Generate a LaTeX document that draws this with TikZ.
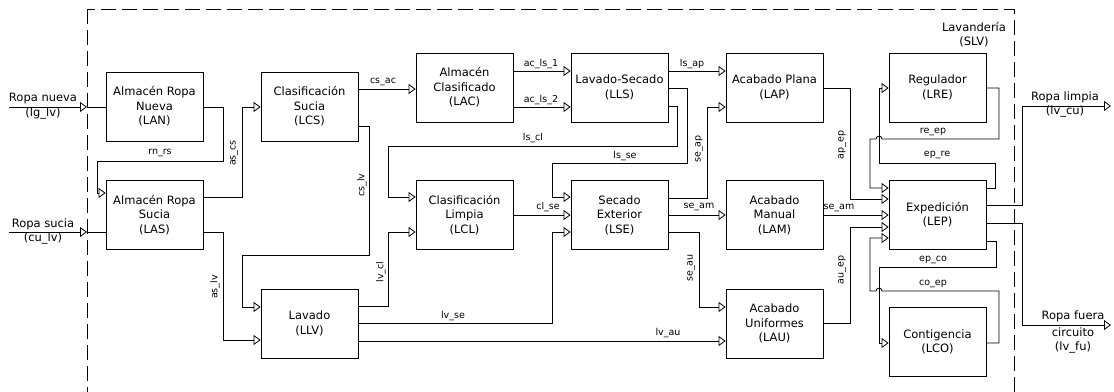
\documentclass[tikz,border=0pt]{standalone}
\usepackage{fontspec}
\setmainfont{DejaVu Sans}
\usetikzlibrary{arrows.meta}
\begin{document}
\begin{tikzpicture}[x=1pt,y=-1pt,
  box/.style={draw, line width=0.8pt, minimum width=97pt, minimum height=69pt, align=center, inner sep=0pt, font=\fontsize{11.5}{14.5}\selectfont},
  wire/.style={line width=0.8pt},
  arr/.style={wire, -{Triangle[open, length=7pt, width=10pt]}},
  lbl/.style={font=\fontsize{9.5}{11}\selectfont, inner sep=0pt},
  big/.style={font=\fontsize{11.5}{14.5}\selectfont, inner sep=0pt, align=center},
  frame/.style={line width=0.8pt, dash pattern=on 15pt off 6pt}
]
\useasboundingbox (0,0) rectangle (1114,391);
\begin{scope}
  \clip (0,0) rectangle (1114,391);
  \draw[frame] (87,9) rectangle (1014,430);
\end{scope}
\node[big] (tSLV) at (974,34.5) {Lavandería\\(SLV)};

% boxes
\node[box] (LAN) at (154.5,106.5) {Almacén Ropa\\Nueva\\(LAN)};
\node[box] (LAS) at (154.5,215) {Almacén Ropa\\Sucia\\(LAS)};
\node[box] (LCS) at (309.5,106.5) {Clasificación\\Sucia\\(LCS)};
\node[box] (LLV) at (309.5,323.5) {Lavado\\(LLV)};
\node[box] (LAC) at (464.5,87.5) {Almacén\\Clasificado\\(LAC)};
\node[box] (LCL) at (464.5,215) {Clasificación\\Limpia\\(LCL)};
\node[box] (LLS) at (619.5,87.5) {Lavado-Secado\\(LLS)};
\node[box] (LSE) at (619.5,215) {Secado\\Exterior\\(LSE)};
\node[box] (LAP) at (774.5,87.5) {Acabado Plana\\(LAP)};
\node[box] (LAM) at (774.5,215) {Acabado\\Manual\\(LAM)};
\node[box] (LAU) at (774.5,323.5) {Acabado\\Uniformes\\(LAU)};
\node[box] (LRE) at (937.5,87.5) {Regulador\\(LRE)};
\node[box] (LEP) at (937.5,214.5) {Expedición\\(LEP)};
\node[box] (LCO) at (937.5,342) {Contigencia\\(LCO)};

% external inputs
\coordinate (rnS) at (9,107);
\coordinate (rnB) at (87,107);
\draw[arr] (rnS) -- (rnB);
\draw[wire] (rnB) -- (LAN.west |- rnB);
\node[big] (tRN1) at (43,99) {Ropa nueva};
\node[big] (tRN2) at (43,113) {(lg\_lv)};

\coordinate (rsS) at (9,232);
\coordinate (rsB) at (87,232);
\draw[arr] (rsS) -- (rsB);
\draw[wire] (rsB) -- (LAS.west |- rsB);
\node[big] (tRS1) at (43,224) {Ropa sucia};
\node[big] (tRS2) at (43,238) {(cu\_lv)};

% internal connectors
\draw[arr] (LAN.east |- 0,107) -- (223,107) -- (223,161) -- (97,161) -- (97,193) -- (LAS.west |- 0,193);
\node[lbl] at (160,153) {rn\_rs};

\draw[arr] (LAS.east |- 0,197) -- (242,197) -- (242,107) -- (LCS.west |- 0,107);
\node[lbl, rotate=90] at (234,153) {as\_cs};

\draw[arr] (LAS.east |- 0,232) -- (223,232) -- (223,340) -- (LLV.west |- 0,340);
\node[lbl, rotate=90] at (215,287) {as\_lv};

\draw[arr] (LCS.east |- 0,126) -- (369,126) -- (369,255) -- (242,255) -- (242,307) -- (LLV.west |- 0,307);
\node[lbl, rotate=90] at (362,185) {cs\_lv};

\draw[arr] (LCS.east |- 0,89) -- (LAC.west |- 0,89);
\node[lbl] at (383,82) {cs\_ac};

\draw[arr] (LAC.east |- 0,71) -- (LLS.west |- 0,71);
\node[lbl] at (541,64) {ac\_ls\_1};
\draw[arr] (LAC.east |- 0,107) -- (LLS.west |- 0,107);
\node[lbl] at (541,100) {ac\_ls\_2};

\draw[arr] (LLS.east |- 0,71) -- (LAP.west |- 0,71);
\node[lbl] at (692,64) {ls\_ap};

\draw[arr] (LLS.east |- 0,88) -- (687,88) -- (687,163) -- (552,163) -- (552,197) -- (LSE.west |- 0,197);
\node[lbl] at (625,156) {ls\_se};

\draw[arr] (LLS.east |- 0,106) -- (677,106) -- (677,146) -- (388,146) -- (388,197) -- (LCL.west |- 0,197);
\node[lbl] at (533,138) {ls\_cl};

\draw[arr] (LCL.east |- 0,215) -- (LSE.west |- 0,215);
\node[lbl] at (548,207) {cl\_se};

\draw[arr] (LLV.east |- 0,306) -- (388,306) -- (388,232) -- (LCL.west |- 0,232);
\node[lbl, rotate=90] at (381,272) {lv\_cl};

\draw[arr] (LLV.east |- 0,323) -- (552,323) -- (552,232) -- (LSE.west |- 0,232);
\node[lbl] at (453,316) {lv\_se};

\draw[arr] (LLV.east |- 0,341) -- (LAU.west |- 0,341);
\node[lbl] at (668,333) {lv\_au};

\draw[arr] (LSE.east |- 0,198) -- (707,198) -- (707,107) -- (LAP.west |- 0,107);
\node[lbl, rotate=90] at (699,149) {se\_ap};

\draw[arr] (LSE.east |- 0,215) -- (LAM.west |- 0,215);
\node[lbl] at (699,207) {se\_am};

\draw[arr] (LSE.east |- 0,232) -- (699,232) -- (699,307) -- (LAU.west |- 0,307);
\node[lbl, rotate=90] at (691,268) {se\_au};

\draw[arr] (LAP.east |- 0,88) -- (850,88) -- (850,199) -- (LEP.west |- 0,199);
\node[lbl, rotate=90] at (842,145) {ap\_ep};

\draw[arr] (LAM.east |- 0,215) -- (LEP.west |- 0,215);
\node[lbl] at (839,208) {se\_am};

\draw[arr] (LAU.east |- 0,323) -- (850,323) -- (850,227) -- (LEP.west |- 0,227);
\node[lbl, rotate=90] at (842,270) {au\_ep};

\draw[arr] (LRE.east |- 0,88) -- (999,88) -- (999,139) -- (882,139) arc[start angle=0, end angle=180, radius=3pt] -- (870,139) -- (870,188) -- (LEP.west |- 0,188);
\node[lbl] at (933,132) {re\_ep};

\draw[arr] (LEP.east |- 0,188) -- (995,188) -- (995,163) -- (879,163) -- (879,88) -- (LRE.west |- 0,88);
\node[lbl] at (937,155) {ep\_re};

\draw[arr] (LEP.east |- 0,241) -- (996,241) -- (996,267) -- (879,267) -- (879,343) -- (LCO.west |- 0,343);
\node[lbl] at (933,260) {ep\_co};

\draw[arr] (LCO.east |- 0,343) -- (999,343) -- (999,291) -- (882,291) arc[start angle=0, end angle=180, radius=3pt] -- (870,291) -- (870,238) -- (LEP.west |- 0,238);
\node[lbl] at (933,284) {co\_ep};

% external outputs
\coordinate (rlE) at (1111,106);
\draw[arr] (LEP.east |- 0,205) -- (1022,205) -- (1022,106) -- (rlE);
\node[big] (tRL1) at (1065,97) {Ropa limpia};
\node[big] (tRL2) at (1065,111) {(lv\_cu)};

\coordinate (rfE) at (1111,325);
\draw[arr] (LEP.east |- 0,223) -- (1022,223) -- (1022,325) -- (rfE);
\node[big] (tRF1) at (1073,316) {Ropa fuera};
\node[big] (tRF2) at (1073,332) {circuito};
\node[big] (tRF3) at (1073,347) {(lv\_fu)};
\end{tikzpicture}
\end{document}
